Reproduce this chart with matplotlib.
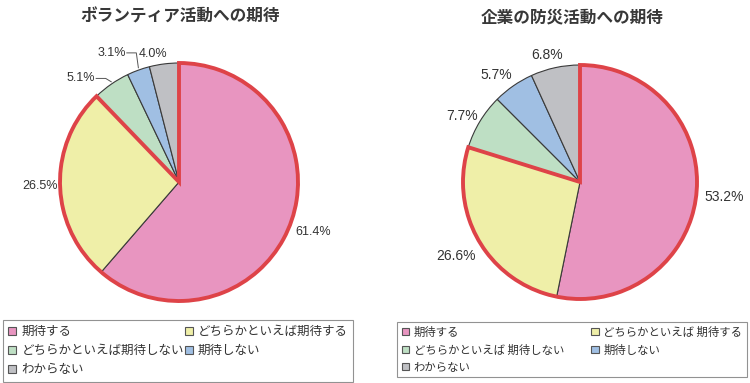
import numpy as np
import matplotlib
matplotlib.use("Agg")
import matplotlib.pyplot as plt
from matplotlib.patches import Wedge, Patch

plt.rcParams['font.family'] = ['Noto Sans CJK JP', 'DejaVu Sans']

categories = ['期待する', 'どちらかといえば期待する', 'どちらかといえば期待しない', '期待しない', 'わからない']
categories_r = ['期待する', 'どちらかといえば 期待する', 'どちらかといえば 期待しない', '期待しない', 'わからない']
volunteer = [61.4, 26.5, 5.1, 3.1, 4.0]
company = [53.2, 26.6, 7.7, 5.7, 6.8]
titles = ['ボランティア活動への期待', '企業の防災活動への期待']

colors = ['#E895C0', '#EFEFA8', '#BEDFC4', '#A0BFE3', '#BFC0C4']
red = '#DE4348'
txt = '#333333'

W, H = 750, 383
fig = plt.figure(figsize=(7.5, 3.83), dpi=100)

def pie_axes(cx, cy, r):
    s = 1.5 * r
    return fig.add_axes([(cx - s) / W, (H - cy - s) / H, 2 * s / W, 2 * s / H])

# label placement (radius, angle offset in degrees) per wedge
left_lab = [(1.2, 0), (1.17, 0), (1.2, 8.8), (1.225, 7.7), (1.10, 4.3)]
right_lab = [(1.24, 0), (1.235, 0), (1.15, 2), (1.16, 3.5), (1.12, 2.3)]

def draw(ax, vals, lab, size, leaders):
    wedges, _ = ax.pie(vals, colors=colors, startangle=90, counterclock=False,
                       radius=1, wedgeprops=dict(edgecolor='#3a3a3a', linewidth=0.8))
    # red outline around the "expect" group
    t1 = wedges[1].theta1
    t2 = wedges[0].theta2
    ax.add_patch(Wedge((0, 0), 1, t1, t2, fill=False, edgecolor=red,
                       linewidth=2.8, joinstyle='miter', zorder=5))
    for i, (w, v) in enumerate(zip(wedges, vals)):
        mid = (w.theta1 + w.theta2) / 2
        rr, off = lab[i]
        a = np.deg2rad(mid + off)
        x, y = rr * np.cos(a), rr * np.sin(a)
        ax.text(x, y, f'{v:.1f}%', ha='center', va='center', fontsize=size,
                color=txt, family=['Liberation Sans', 'DejaVu Sans'])
        if i in leaders:
            am = np.deg2rad(mid)
            ex, ey = np.cos(am), np.sin(am)
            tx = x + 0.13
            ax.plot([tx, tx + 0.08, ex], [y, y, ey + 0.02], color='#555555', lw=0.7)
    ax.set_xlim(-1.5, 1.5)
    ax.set_ylim(-1.5, 1.5)
    ax.set_aspect('equal')
    ax.axis('off')

ax1 = pie_axes(179, 182, 119)
draw(ax1, volunteer, left_lab, 9, [2, 3])
ax2 = pie_axes(580, 182, 117)
draw(ax2, company, right_lab, 10, [])

fig.text(180 / W, 1 - 17 / H, titles[0], ha='center', va='center', fontsize=12,
         fontweight='bold', color='#383838')
fig.text(572 / W, 1 - 17 / H, titles[1], ha='center', va='center', fontsize=12,
         fontweight='bold', color='#383838')

order = [0, 2, 4, 1, 3]
for labels, fs, ls, bp, x0, x1, top, bot in [(categories, 9, 0.48, 0.42, 3, 353, 320, 381),
                                             (categories_r, 8.2, 0.6, 0.4, 397, 747, 322, 379)]:
    handles = [Patch(facecolor=colors[i], edgecolor='#555555', linewidth=0.8) for i in order]
    leg = fig.legend(handles, [labels[i] for i in order], ncol=2, mode='expand',
                     loc='upper left',
                     bbox_to_anchor=(x0 / W, (H - bot) / H, (x1 - x0) / W, (bot - top) / H),
                     fontsize=fs, frameon=True, fancybox=False, borderpad=bp,
                     labelspacing=ls, handlelength=0.65, handleheight=0.65,
                     handletextpad=0.4, columnspacing=0.5, borderaxespad=0)
    leg.get_frame().set_edgecolor('#777777')
    leg.get_frame().set_linewidth(0.8)
    for t in leg.get_texts():
        t.set_color(txt)

fig.savefig('out.png', dpi=100)
